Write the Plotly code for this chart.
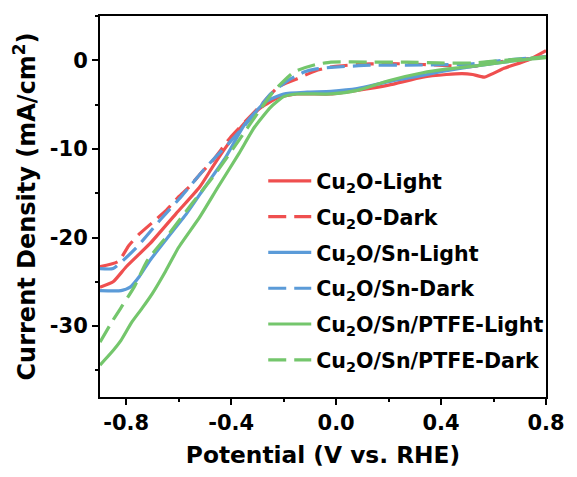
import plotly.graph_objects as go

# ---- data ----
names = ["Cu<sub>2</sub>O-Light", "Cu<sub>2</sub>O-Dark",
         "Cu<sub>2</sub>O/Sn-Light", "Cu<sub>2</sub>O/Sn-Dark",
         "Cu<sub>2</sub>O/Sn/PTFE-Light", "Cu<sub>2</sub>O/Sn/PTFE-Dark"]

cu2o_light_x = [-0.9, -0.85, -0.80, -0.71, -0.61, -0.52, -0.47, -0.42, -0.35, -0.285, -0.22, -0.15,
                -0.02, 0.08, 0.2, 0.33, 0.42, 0.48, 0.52, 0.565, 0.64, 0.73, 0.8]
cu2o_light_y = [-25.6, -25.0, -23.3, -20.7, -17.3, -14.3, -12.0, -9.8, -7.1, -5.3, -4.2, -3.8,
                -3.8, -3.4, -2.8, -1.9, -1.6, -1.5, -1.6, -1.9, -0.9, 0.0, 1.1]

cu2o_dark_x = [-0.9, -0.83, -0.79, -0.75, -0.70, -0.65, -0.60, -0.56, -0.52, -0.47, -0.40, -0.31,
               -0.22, -0.15, -0.08, -0.01, 0.13, 0.27, 0.39, 0.52, 0.64, 0.8]
cu2o_dark_y = [-23.3, -22.7, -20.9, -19.6, -18.3, -17.0, -15.4, -14.3, -12.9, -11.3, -8.6, -5.8,
               -3.0, -2.1, -1.2, -0.7, -0.4, -0.4, -0.55, -0.7, -0.1, 0.4]

sn_light_x = [-0.9, -0.82, -0.785, -0.75, -0.71, -0.65, -0.57, -0.50, -0.42, -0.35, -0.27, -0.20,
              -0.11, -0.02, 0.08, 0.2, 0.33, 0.415, 0.54, 0.665, 0.8]
sn_light_y = [-26.0, -26.0, -25.6, -24.4, -22.6, -20.3, -17.3, -14.3, -10.9, -7.3, -4.7, -3.8,
              -3.6, -3.5, -3.2, -2.4, -1.7, -1.2, -0.6, -0.1, 0.4]

sn_dark_x = [-0.9, -0.85, -0.76, -0.67, -0.585, -0.50, -0.41, -0.32, -0.25, -0.18, -0.12, -0.08,
             -0.02, 0.13, 0.27, 0.39, 0.52, 0.64, 0.8]
sn_dark_y = [-23.5, -23.5, -21.1, -18.0, -15.2, -12.2, -9.4, -6.4, -3.8, -2.2, -1.3, -1.0,
             -0.8, -0.55, -0.55, -0.5, -0.4, 0.0, 0.4]

ptfe_light_x = [-0.9, -0.86, -0.82, -0.78, -0.74, -0.70, -0.65, -0.60, -0.52, -0.45, -0.37, -0.31,
                -0.25, -0.20, -0.15, -0.02, 0.08, 0.2, 0.33, 0.42, 0.54, 0.665, 0.8]
ptfe_light_y = [-34.4, -33.1, -31.6, -29.6, -28.0, -26.3, -23.8, -21.1, -17.7, -14.3, -10.5, -7.5,
                -5.3, -4.1, -3.8, -3.8, -3.4, -2.3, -1.4, -1.0, -0.6, -0.1, 0.3]

ptfe_dark_x = [-0.9, -0.85, -0.77, -0.72, -0.635, -0.55, -0.46, -0.37, -0.30, -0.235, -0.16,
               -0.08, -0.02, 0.13, 0.27, 0.39, 0.52, 0.64, 0.8]
ptfe_dark_y = [-31.8, -29.3, -25.6, -22.6, -19.5, -16.2, -12.8, -9.0, -6.0, -3.4, -1.3,
               -0.5, -0.2, -0.2, -0.2, -0.3, -0.3, 0.0, 0.4]

x_ticks = [-0.8, -0.4, 0.0, 0.4, 0.8]
x_tick_text = ["-0.8", "-0.4", "0.0", "0.4", "0.8"]
y_ticks = [0, -10, -20, -30]
y_tick_text = ["0", "-10", "-20", "-30"]

RED = "#EF4F4F"
BLUE = "#5B9BD8"
GREEN = "#74C66C"

series = [
    (cu2o_light_x, cu2o_light_y, RED, "solid"),
    (cu2o_dark_x, cu2o_dark_y, RED, "18px,8px"),
    (sn_light_x, sn_light_y, BLUE, "solid"),
    (sn_dark_x, sn_dark_y, BLUE, "18px,8px"),
    (ptfe_light_x, ptfe_light_y, GREEN, "solid"),
    (ptfe_dark_x, ptfe_dark_y, GREEN, "18px,8px"),
]

fig = go.Figure()
for i, (xs, ys, col, dash) in enumerate(series):
    fig.add_trace(go.Scatter(
        x=xs, y=ys, mode="lines", name=names[i], legendgroup=str(i),
        line=dict(color=col, width=3.2, dash=dash, shape="spline", smoothing=0.5),
    ))

FONT = "DejaVu Sans, sans-serif"
axis_common = dict(
    showline=True, linecolor="black", linewidth=2, mirror=True,
    ticks="outside", tickcolor="black", tickwidth=2, ticklen=6,
    showgrid=False, zeroline=False,
    tickfont=dict(family=FONT, size=21, color="black", weight="bold"),
)

fig.update_layout(
    width=577, height=477,
    margin=dict(l=100, r=24, t=16, b=80),
    paper_bgcolor="white", plot_bgcolor="white",
    showlegend=True,
    legend=dict(
        x=0.366, y=0.332, xanchor="left", yanchor="middle",
        font=dict(family=FONT, size=20.6, color="black", weight="bold"),
        bgcolor="rgba(0,0,0,0)", borderwidth=0,
        tracegroupgap=6, itemwidth=43,
    ),
    xaxis=dict(
        range=[-0.9, 0.8], tickvals=x_ticks, ticktext=x_tick_text,
        minor=dict(dtick=0.2, tick0=-0.8, ticks="outside", ticklen=3, tickwidth=2, tickcolor="black"),
        title=dict(text="Potential (V vs. RHE)", standoff=12,
                   font=dict(family=FONT, size=23.3, color="black", weight="bold")),
        **axis_common,
    ),
    yaxis=dict(
        range=[-38, 5], tickvals=y_ticks, ticktext=y_tick_text,
        minor=dict(dtick=5, tick0=0, ticks="outside", ticklen=3, tickwidth=2, tickcolor="black"),
        title=dict(text="Current Density (mA/cm<sup>2</sup>)", standoff=7,
                   font=dict(family=FONT, size=24, color="black", weight="bold")),
        **axis_common,
    ),
)

fig.write_html("out.html")
